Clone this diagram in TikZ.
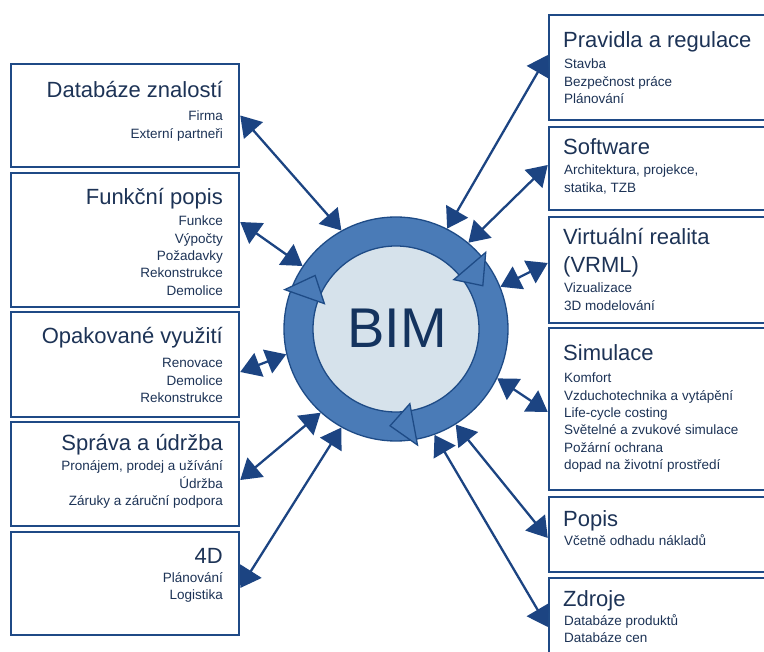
\documentclass[tikz,border=0pt]{standalone}
\usepackage{fontspec}
\setmainfont{Liberation Sans}
\usetikzlibrary{arrows.meta}
\definecolor{boxline}{HTML}{1F4A86}
\definecolor{conncol}{HTML}{1C4482}
\definecolor{ringfill}{HTML}{4A7BB7}
\definecolor{ringline}{HTML}{1E4B86}
\definecolor{innerfill}{HTML}{D6E2EB}
\definecolor{bimtext}{HTML}{14335E}
\definecolor{txt}{HTML}{1D3356}
\begin{document}
\begin{tikzpicture}[x=1pt,y=1pt,
  box/.style={draw=boxline, line width=2.5pt, fill=white, rectangle, inner sep=0},
  ttl/.style={font=\fontsize{22}{26}\selectfont, text=txt, inner sep=0},
  sub/.style={font=\fontsize{13.5}{16}\selectfont, text=txt, inner sep=0},
  lt/.style={anchor=base east},
  rt/.style={anchor=base west},
  link/.style={color=conncol, line width=2.3pt,
    {Triangle[length=20pt,width=25pt]}-{Triangle[length=20pt,width=25pt]}},
  ringpart/.style={fill=ringfill, draw=ringline, line width=1.3pt, line join=miter}
]
\useasboundingbox (0,0) rectangle (764,-652);
\clip (0,0) rectangle (764,-652);

% left boxes
\node[box, minimum width=228pt, minimum height=103pt] (L1) at (125,-115.5) {};
\node[box, minimum width=228pt, minimum height=134pt] (L2) at (125,-240) {};
\node[box, minimum width=228pt, minimum height=105pt] (L3) at (125,-364.5) {};
\node[box, minimum width=228pt, minimum height=104pt] (L4) at (125,-474) {};
\node[box, minimum width=228pt, minimum height=103pt] (L5) at (125,-583.5) {};
% right boxes
\node[box, minimum width=251pt, minimum height=105pt] (R1) at (674.5,-67.5) {};
\node[box, minimum width=251pt, minimum height=83pt] (R2) at (674.5,-168.5) {};
\node[box, minimum width=251pt, minimum height=106pt] (R3) at (674.5,-270) {};
\node[box, minimum width=251pt, minimum height=162pt] (R4) at (674.5,-409) {};
\node[box, minimum width=251pt, minimum height=75pt] (R5) at (674.5,-534.5) {};
\node[box, minimum width=251pt, minimum height=122pt] (R6) at (674.5,-639) {};

% left texts
\node[ttl,lt] (L1t) at (223,-98) {Databáze znalostí};
\node[sub,lt] (L1a) at (223,-121) {Firma};
\node[sub,lt] (L1b) at (223,-138.3) {Externí partneři};

\node[ttl,lt] (L2t) at (223,-205) {Funkční popis};
\node[sub,lt] (L2a) at (223,-226) {Funkce};
\node[sub,lt] (L2b) at (223,-243.3) {Výpočty};
\node[sub,lt] (L2c) at (223,-260.6) {Požadavky};
\node[sub,lt] (L2d) at (223,-277.9) {Rekonstrukce};
\node[sub,lt] (L2e) at (223,-295.2) {Demolice};

\node[ttl,lt] (L3t) at (223,-344) {Opakované využití};
\node[sub,lt] (L3a) at (223,-368) {Renovace};
\node[sub,lt] (L3b) at (223,-385.5) {Demolice};
\node[sub,lt] (L3c) at (223,-403) {Rekonstrukce};

\node[ttl,lt] (L4t) at (223,-451) {Správa a údržba};
\node[sub,lt] (L4a) at (223,-471) {Pronájem, prodej a užívání};
\node[sub,lt] (L4b) at (223,-488.3) {Údržba};
\node[sub,lt] (L4c) at (223,-505.6) {Záruky a záruční podpora};

\node[ttl,lt] (L5t) at (223,-563) {4D};
\node[sub,lt] (L5a) at (223,-582) {Plánování};
\node[sub,lt] (L5b) at (223,-599.3) {Logistika};

% right texts
\node[ttl,rt] (R1t) at (563,-48) {Pravidla a regulace};
\node[sub,rt] (R1a) at (564,-69) {Stavba};
\node[sub,rt] (R1b) at (564,-86.3) {Bezpečnost práce};
\node[sub,rt] (R1c) at (564,-103.6) {Plánování};

\node[ttl,rt] (R2t) at (563,-155) {Software};
\node[sub,rt] (R2a) at (564,-175) {Architektura, projekce,};
\node[sub,rt] (R2b) at (564,-192.3) {statika, TZB};

\node[ttl,rt] (R3t) at (563,-245) {Virtuální realita};
\node[ttl,rt] (R3u) at (563,-273) {(VRML)};
\node[sub,rt] (R3a) at (564,-293) {Vizualizace};
\node[sub,rt] (R3b) at (564,-310.3) {3D modelování};

\node[ttl,rt] (R4t) at (563,-361) {Simulace};
\node[sub,rt] (R4a) at (564,-383) {Komfort};
\node[sub,rt] (R4b) at (564,-400.3) {Vzduchotechnika a vytápění};
\node[sub,rt] (R4c) at (564,-417.6) {Life-cycle costing};
\node[sub,rt] (R4d) at (564,-434.9) {Světelné a zvukové simulace};
\node[sub,rt] (R4e) at (564,-452.2) {Požární ochrana};
\node[sub,rt] (R4f) at (564,-469.5) {dopad na životní prostředí};

\node[ttl,rt] (R5t) at (563,-526) {Popis};
\node[sub,rt] (R5a) at (564,-545) {Včetně odhadu nákladů};

\node[ttl,rt] (R6t) at (563,-606) {Zdroje};
\node[sub,rt] (R6a) at (564,-625) {Databáze produktů};
\node[sub,rt] (R6b) at (564,-642.3) {Databáze cen};

% central ring
\node[circle, minimum size=224pt, inner sep=0, fill=ringfill, draw=ringline, line width=1.3pt] (bim) at (396,-329) {};
\filldraw[fill=innerfill, draw=ringline, line width=1.3pt] (bim.center) circle[radius=83];
\foreach \a in {26.5,146.5,266.5}{
  \filldraw[ringpart, shift={(bim.center)}] (\a:97) -- ({\a+14}:76) -- ({\a+14}:118) -- cycle;
}
\node[font=\fontsize{56}{60}\selectfont, text=bimtext, inner sep=0] (bimlabel) at (397,-328.5) {BIM};

% connectors
\draw[link] (L1.east) -- (bim.119.5);
\draw[link] ([yshift=18pt]L2.east) -- (bim.146.6);
\draw[link] ([yshift=-7.5pt]L3.east) -- (bim.193.5);
\draw[link] ([yshift=-6pt]L4.east) -- (bim.228.4);
\draw[link] ([yshift=-4.5pt]L5.east) -- (bim.241.6);
\draw[link] ([yshift=12.5pt]R1.west) -- (bim.63.2);
\draw[link] ([yshift=3.5pt]R2.west) -- (bim.50.8);
\draw[link] ([yshift=7pt]R3.west) -- (bim.22);
\draw[link] ([yshift=-3pt]R4.west) -- (bim.-26);
\draw[link] ([yshift=-3.5pt]R5.west) -- (bim.-58.4);
\draw[link] ([yshift=12pt]R6.west) -- (bim.-70.4);
\end{tikzpicture}
\end{document}
